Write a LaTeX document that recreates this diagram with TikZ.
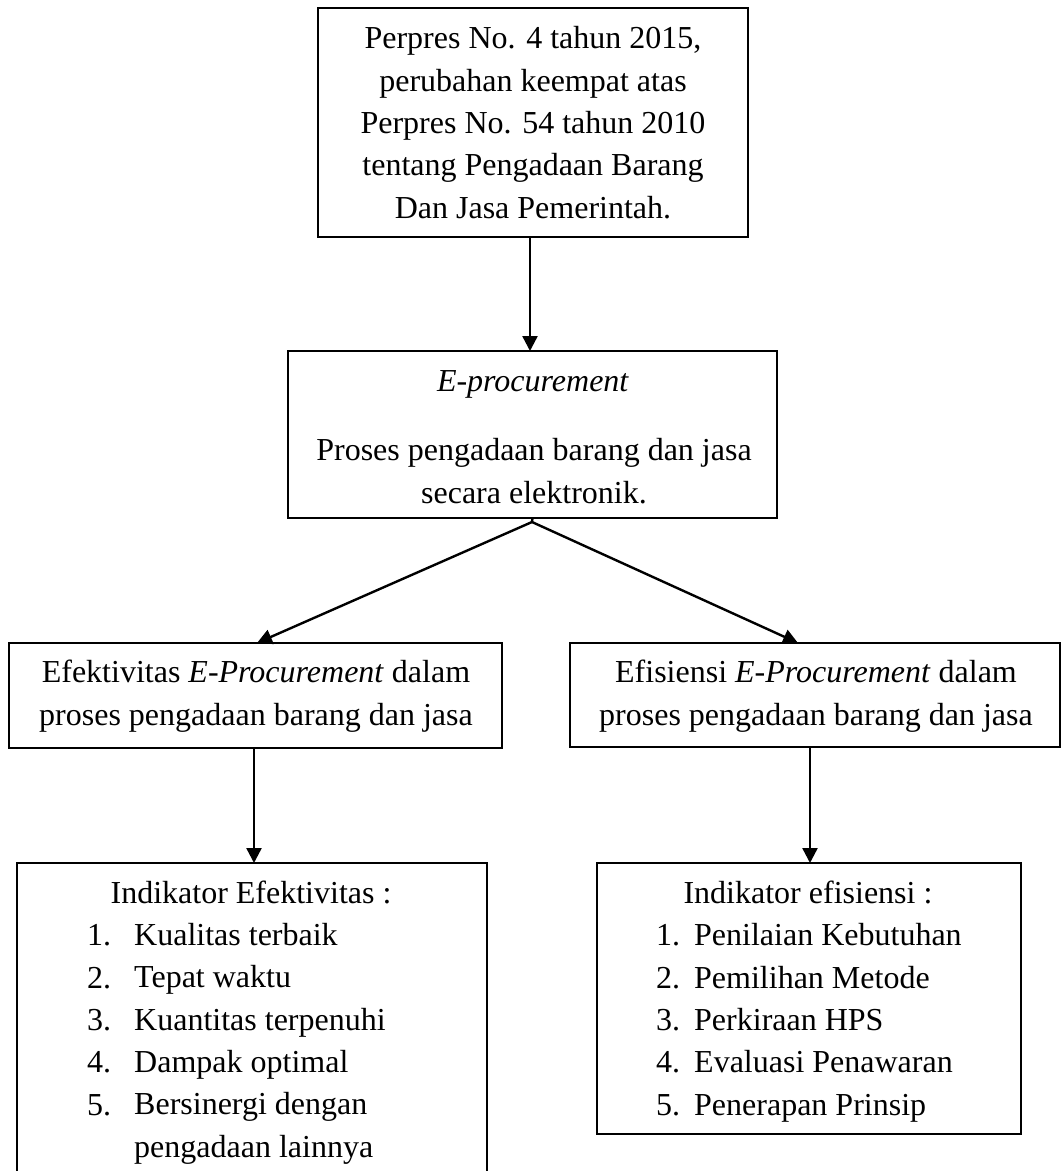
\documentclass[tikz,border=0pt]{standalone}
\usepackage{fontspec}
\setmainfont{Liberation Serif}
\usetikzlibrary{arrows.meta}
\tikzset{
  box/.style={draw, line width=2.4pt, rectangle, inner sep=0pt, outer sep=0pt},
  txt/.style={font=\fontsize{32}{42.3}\selectfont, align=center, inner sep=0pt, anchor=base},
  ltxt/.style={font=\fontsize{32}{42.3}\selectfont, align=left, inner sep=0pt, anchor=base west},
  arr/.style={line width=2.4pt, -{Triangle[length=15pt,width=15pt]}},
}
\begin{document}
\begin{tikzpicture}[x=1pt,y=-1pt]
\useasboundingbox (0,0) rectangle (1061,1171);
% boxes
\node[box, minimum width=430pt, minimum height=229pt] (top) at (533,122.5) {};
\node[box, minimum width=489pt, minimum height=167pt] (eproc) at (532.5,434.5) {};
\node[box, minimum width=493pt, minimum height=105pt] (left) at (255.5,695.5) {};
\node[box, minimum width=490pt, minimum height=104pt] (right) at (815,695) {};
\node[box, minimum width=470pt, minimum height=317pt] (bl) at (252,1021.5) {};
\node[box, minimum width=424pt, minimum height=271pt] (br) at (809,998.5) {};
% texts (base anchor = baseline of the last line)
\node[txt] (toptxt) at (533,218) {Perpres No. 4 tahun 2015,\\perubahan keempat atas\\Perpres No. 54 tahun 2010\\tentang Pengadaan Barang\\Dan Jasa Pemerintah.};
\node[txt] (eproctitle) at (533,391) {\textit{E-procurement}};
\node[txt] (eproctxt) at (534,503) {Proses pengadaan barang dan jasa\\secara elektronik.};
\node[txt] (lefttxt) at (256,725) {Efektivitas \textit{E-Procurement} dalam\\proses pengadaan barang dan jasa};
\node[txt] (righttxt) at (816,725) {Efisiensi \textit{E-Procurement} dalam\\proses pengadaan barang dan jasa};
\node[txt] (blhead) at (251,903) {Indikator Efektivitas :};
\node[ltxt] (blnum) at (87,1115) {1.\\2.\\3.\\4.\\5.};
\node[ltxt] (blitems) at (134,1157) {Kualitas terbaik\\Tepat waktu\\Kuantitas terpenuhi\\Dampak optimal\\Bersinergi dengan\\pengadaan lainnya};
\node[txt] (brhead) at (808,903) {Indikator efisiensi :};
\node[ltxt] (brnum) at (656,1115) {1.\\2.\\3.\\4.\\5.};
\node[ltxt] (britems) at (694,1115) {Penilaian Kebutuhan\\Pemilihan Metode\\Perkiraan HPS\\Evaluasi Penawaran\\Penerapan Prinsip};
% connectors
\coordinate (split) at (532,522);
\coordinate (tipL) at (257,643);
\coordinate (tipR) at (798,643);
\draw[arr] (top.south -| 530,0) -- (eproc.north -| 530,0);
\draw[line width=2.4pt] (eproc.south) -- (split);
\draw[arr] (split) -- (tipL);
\draw[arr] (split) -- (tipR);
\draw[arr] (left.south -| 254,0) -- (bl.north -| 254,0);
\draw[arr] (right.south -| 810,0) -- (br.north -| 810,0);
\end{tikzpicture}
\end{document}
